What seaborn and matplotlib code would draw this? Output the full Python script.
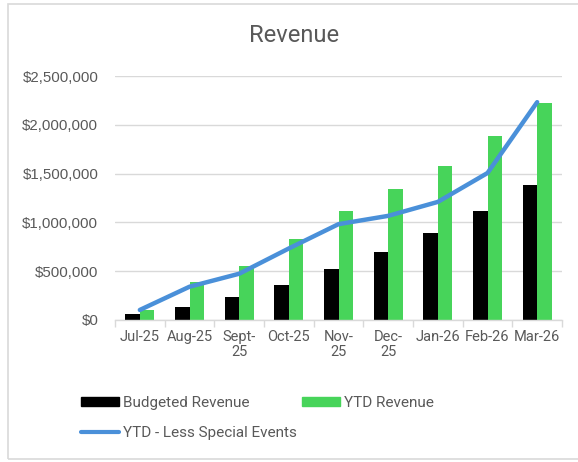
import matplotlib
matplotlib.use("Agg")
import matplotlib.pyplot as plt
import matplotlib.patches as mpatches
import matplotlib.lines as mlines
from matplotlib.ticker import FuncFormatter, MultipleLocator
import seaborn as sns
import pandas as pd

months = ["Jul-25", "Aug-25", "Sept-\n25", "Oct-25", "Nov-\n25", "Dec-\n25", "Jan-26", "Feb-26", "Mar-26"]
budgeted = [61000, 133000, 232000, 358000, 518000, 692000, 890000, 1115000, 1387000]
ytd_revenue = [106000, 389000, 552000, 828000, 1121000, 1346000, 1578000, 1881000, 2222000]
ytd_less_special = [103000, 341000, 474000, 733000, 982000, 1067000, 1210000, 1506000, 2232000]

series_names = ["Budgeted Revenue", "YTD Revenue"]
line_name = "YTD - Less Special Events"
colors = {"Budgeted Revenue": "#000000", "YTD Revenue": "#47d45a"}
line_color = "#4a90d9"
text_color = "#595959"

df = pd.DataFrame({
    "Month": months * 2,
    "Value": budgeted + ytd_revenue,
    "Series": [series_names[0]] * len(months) + [series_names[1]] * len(months),
})

sns.set_theme(style="white")
plt.rcParams["font.family"] = ["Roboto", "DejaVu Sans"]

fig = plt.figure(figsize=(5.78, 4.62), dpi=100)
ax = fig.add_axes([115 / 578, 1 - 320 / 462, 447 / 578, 244 / 462])

sns.barplot(data=df, x="Month", y="Value", hue="Series", order=months,
            hue_order=series_names, palette=colors, width=0.58, ax=ax,
            saturation=1, legend=False, errorbar=None, linewidth=0)
sns.lineplot(x=list(range(len(months))), y=ytd_less_special, ax=ax,
             color=line_color, linewidth=3.2, solid_capstyle="round")

ax.set_xlim(-0.5, len(months) - 0.5)
ax.set_ylim(0, 2500000)
ax.yaxis.set_major_locator(MultipleLocator(500000))
ax.yaxis.set_major_formatter(FuncFormatter(lambda v, p: f"${v:,.0f}"))
ax.grid(axis="y", color="#d9d9d9", linewidth=1)
ax.set_axisbelow(True)
for s in ["top", "right", "left"]:
    ax.spines[s].set_visible(False)
ax.spines["bottom"].set_color("#d9d9d9")
ax.spines["bottom"].set_linewidth(1)
ax.set_xlabel("")
ax.set_ylabel("")

ax.set_xticks(range(len(months)))
ax.set_xticklabels(months, fontsize=10.5, color=text_color, linespacing=1.15)
ax.tick_params(axis="x", length=0, pad=7)
ax.set_xticks([i - 0.5 for i in range(len(months) + 1)], minor=True)
ax.tick_params(axis="x", which="minor", length=5, color="#d9d9d9", width=1, bottom=True)
ax.tick_params(axis="y", length=0, pad=12, labelsize=10.8, labelcolor=text_color)
for lab in ax.get_yticklabels():
    lab.set_fontfamily(["Liberation Sans", "DejaVu Sans"])

fig.text(294 / 578, 1 - 35 / 462, "Revenue", ha="center", va="center",
         fontsize=17, color=text_color)

handles = [
    mpatches.Patch(color=colors[series_names[0]], label=series_names[0]),
    mlines.Line2D([], [], color=line_color, linewidth=3.0, label=line_name, solid_capstyle="round"),
    mpatches.Patch(color=colors[series_names[1]], label=series_names[1]),
]
fig.legend(handles=handles, ncol=2, loc="upper left",
           bbox_to_anchor=(67 / 578, 1 - 382 / 462), frameon=False,
           fontsize=11, labelcolor=text_color, handlelength=2.5,
           handleheight=0.55, handletextpad=0.28, columnspacing=0.3,
           labelspacing=1.05)

fig.patches.append(mpatches.Rectangle((7.5 / 578, 1 - 459 / 462), 1.0, 455 / 462,
                                      transform=fig.transFigure, fill=False,
                                      edgecolor="#d9d9d9", linewidth=1.2))

fig.savefig("out.png", dpi=100)
